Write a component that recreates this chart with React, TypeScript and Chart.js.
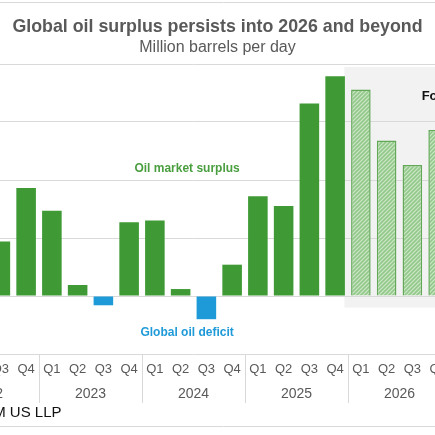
import { useEffect, useRef } from "react";
import { Chart, registerables } from "chart.js";

Chart.register(...registerables);

const years = ["2022", "2023", "2024", "2025", "2026"];
const quarterNames = ["Q1", "Q2", "Q3", "Q4"];
const categories = years.flatMap((y) => quarterNames.map((q) => `${q} ${y}`));
const quarterLabels = years.flatMap(() => quarterNames);

// Million barrels per day (actual)
const actualBalance: (number | null)[] = [
  null, null, 0.94, 1.86,
  1.47, 0.19, -0.16, 1.27,
  1.3, 0.12, -0.4, 0.54,
  1.72, 1.55, 3.32, 3.79,
  null, null, null, null,
];
// Million barrels per day (forecast)
const forecastBalance: (number | null)[] = [
  null, null, null, null,
  null, null, null, null,
  null, null, null, null,
  null, null, null, null,
  3.56, 2.68, 2.26, 2.86,
];

const titleText = "Global oil surplus persists into 2026 and beyond";
const subtitleText = "Million barrels per day";
const sourceText = "Source: RSM US LLP";

const OFFSET = 64;
const CANVAS_W = 575;
const CANVAS_H = 435;
const FONT = "'Liberation Sans', Arial, Helvetica, sans-serif";

function makePattern(): CanvasPattern | string {
  const n = 4;
  const c = document.createElement("canvas");
  c.width = n;
  c.height = n;
  const g = c.getContext("2d");
  if (!g) return "#b3d9ac";
  g.fillStyle = "#cde7c8";
  g.fillRect(0, 0, n, n);
  g.strokeStyle = "#92c889";
  g.lineWidth = 1.6;
  g.beginPath();
  g.moveTo(0, n);
  g.lineTo(n, 0);
  g.moveTo(-2, 2);
  g.lineTo(2, -2);
  g.moveTo(n - 2, n + 2);
  g.lineTo(n + 2, n - 2);
  g.stroke();
  const p = g.createPattern(c, "repeat");
  return p || "#b3d9ac";
}

const decorPlugin = {
  id: "decor",
  beforeDraw(chart: any) {
    const { ctx, scales } = chart;
    const x = scales.x;
    const y = scales.y;
    const step = x.getPixelForValue(1) - x.getPixelForValue(0);
    const left = x.getPixelForValue(15) + step * 0.36;
    const top = y.getPixelForValue(3.95);
    const bottom = y.getPixelForValue(-0.2);
    ctx.save();
    ctx.fillStyle = "#f2f2f2";
    ctx.fillRect(left, top, chart.width - left, bottom - top);
    ctx.restore();
  },
  afterDraw(chart: any) {
    const { ctx, scales, chartArea } = chart;
    const x = scales.x;
    const y = scales.y;
    ctx.save();

    // frame lines
    ctx.strokeStyle = "#d9d9d9";
    ctx.lineWidth = 1;
    ctx.beginPath();
    ctx.moveTo(0, 2.5);
    ctx.lineTo(chart.width, 2.5);
    ctx.moveTo(0, 426.5);
    ctx.lineTo(chart.width, 426.5);
    ctx.stroke();

    // title
    ctx.textAlign = "center";
    ctx.textBaseline = "middle";
    ctx.fillStyle = "#595959";
    ctx.font = `bold 17.8px ${FONT}`;
    ctx.fillText(titleText, OFFSET + 217.5, 27);
    ctx.font = `16px ${FONT}`;
    ctx.fillText(subtitleText, OFFSET + 217.5, 47.5);

    // category labels
    ctx.font = `13px ${FONT}`;
    quarterLabels.forEach((q, i) => {
      ctx.fillText(q, x.getPixelForValue(i), 369);
    });
    ctx.font = `14px ${FONT}`;
    years.forEach((yr, k) => {
      ctx.fillText(yr, x.getPixelForValue(4 * k + 1.5), 394);
    });

    // year separators
    ctx.strokeStyle = "#d9d9d9";
    ctx.beginPath();
    for (let k = 1; k < years.length; k++) {
      const px = Math.round((x.getPixelForValue(4 * k - 1) + x.getPixelForValue(4 * k)) / 2) + 0.5;
      ctx.moveTo(px, chartArea.bottom);
      ctx.lineTo(px, 403);
    }
    ctx.stroke();

    // annotations
    ctx.font = `bold 12px ${FONT}`;
    ctx.fillStyle = "#4a9e3f";
    ctx.fillText("Oil market surplus", x.getPixelForValue(9.25), y.getPixelForValue(2.19));
    ctx.fillStyle = "#1f9ad8";
    ctx.fillText("Global oil deficit", x.getPixelForValue(9.25), y.getPixelForValue(-0.64));

    ctx.textAlign = "left";
    ctx.fillStyle = "#111111";
    ctx.font = `bold 13px ${FONT}`;
    ctx.fillText("Forecast", x.getPixelForValue(18.36), y.getPixelForValue(3.44));

    // source
    ctx.textAlign = "right";
    ctx.fillStyle = "#111111";
    ctx.font = `15px ${FONT}`;
    ctx.fillText(sourceText, OFFSET + 61.5, 413);

    ctx.restore();
  },
};

export default function App() {
  const ref = useRef<HTMLCanvasElement | null>(null);

  useEffect(() => {
    if (!ref.current) return;
    const pattern = makePattern();
    const chart = new Chart(ref.current, {
      type: "bar",
      data: {
        labels: categories,
        datasets: [
          {
            label: "Actual",
            data: actualBalance,
            grouped: false,
            backgroundColor: (c: any) => {
              const v = c.raw as number | null;
              return v !== null && v < 0 ? "#1f9ad8" : "#3f9a35";
            },
            borderWidth: 0,
            barPercentage: 0.76,
            categoryPercentage: 1,
          } as any,
          {
            label: "Forecast",
            data: forecastBalance,
            grouped: false,
            backgroundColor: pattern as any,
            borderColor: "#62a857",
            borderWidth: 1.5,
            barPercentage: 0.76,
            categoryPercentage: 1,
          } as any,
        ],
      },
      options: {
        responsive: false,
        animation: false,
        layout: { padding: { top: 64, bottom: 81, left: 0, right: 60 } },
        plugins: {
          legend: { display: false },
          title: { display: false },
          tooltip: { enabled: false },
        },
        scales: {
          x: { display: false },
          y: {
            min: -1,
            max: 4,
            ticks: { display: false, stepSize: 1 },
            grid: { color: "#d9d9d9", drawTicks: false, lineWidth: 1 },
            border: { display: false },
            afterFit: (scale: any) => {
              scale.width = 0;
            },
          } as any,
        },
      },
      plugins: [decorPlugin],
    });
    return () => chart.destroy();
  }, []);

  return (
    <div
      style={{
        position: "fixed",
        left: 0,
        top: 0,
        width: 435,
        height: 435,
        overflow: "hidden",
        background: "#ffffff",
      }}
    >
      <canvas
        ref={ref}
        width={CANVAS_W}
        height={CANVAS_H}
        style={{ position: "absolute", left: -OFFSET, top: 0, width: CANVAS_W, height: CANVAS_H }}
      />
    </div>
  );
}
